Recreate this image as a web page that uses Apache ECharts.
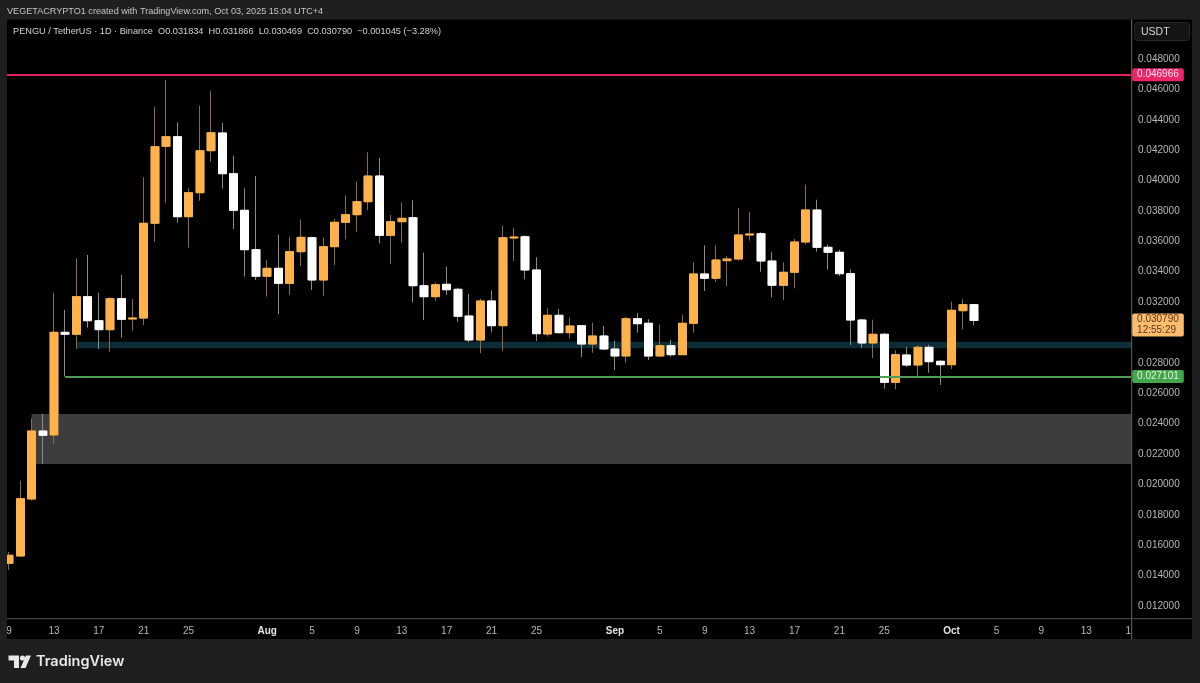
<!DOCTYPE html>
<html>
<head>
<meta charset="utf-8">
<style>html,body{margin:0;padding:0;background:#000}#c{width:1200px;height:683px}</style>
<script src="https://cdn.jsdelivr.net/npm/echarts@6/dist/echarts.min.js"></script>
</head>
<body>
<div id="c"></div>
<script>
const categories = ['07-08',
'07-09','07-10','07-11','07-12','07-13','07-14','07-15','07-16','07-17','07-18','07-19','07-20','07-21','07-22','07-23','07-24','07-25','07-26','07-27','07-28','07-29','07-30','07-31',
'08-01','08-02','08-03','08-04','08-05','08-06','08-07','08-08','08-09','08-10','08-11','08-12','08-13','08-14','08-15','08-16','08-17','08-18','08-19','08-20','08-21','08-22','08-23','08-24','08-25','08-26','08-27','08-28','08-29','08-30','08-31',
'09-01','09-02','09-03','09-04','09-05','09-06','09-07','09-08','09-09','09-10','09-11','09-12','09-13','09-14','09-15','09-16','09-17','09-18','09-19','09-20','09-21','09-22','09-23','09-24','09-25','09-26','09-27','09-28','09-29','09-30',
'10-01','10-02','10-03','10-04','10-05','10-06','10-07','10-08','10-09','10-10','10-11','10-12','10-13','10-14','10-15','10-16','10-17'];
const tickLabels = {'07-09':'9','07-13':'13','07-17':'17','07-21':'21','07-25':'25','08-01':'Aug','08-05':'5','08-09':'9','08-13':'13','08-17':'17','08-21':'21','08-25':'25','09-01':'Sep','09-05':'5','09-09':'9','09-13':'13','09-17':'17','09-21':'21','09-25':'25','10-01':'Oct','10-05':'5','10-09':'9','10-13':'13','10-17':'17'};
const opens = [.014811,.015292,.019043,.023518,.023255,.030013,.029882,.032356,.030777,.030185,.032225,.030888,.030954,.037187,.042254,.042886,.037621,.039200,.041964,.043129,.040451,.038042,.035449,.033699,.034225,.033238,.035318,.036239,.033455,.035647,.037252,.037753,.038608,.040299,.036397,.037292,.037555,.033080,.032356,.033172,.032843,.031086,.029507,.032073,.030448,.036219,.036305,.034113,.029901,.031132,.029987,.030448,.029243,.029770,.028914,.028454,.030908,.030606,.028454,.029132,.028539,.030606,.033850,.033567,.034725,.034837,.036417,.036502,.034706,.033106,.033962,.035956,.038062,.035607,.035278,.033870,.030823,.029309,.029882,.026723,.028519,.027861,.029026,.028105,.027881,.031435,.031834];
const highs = [.015555,.020247,.024354,.024637,.032619,.031481,.034883,.035100,.032619,.032317,.033784,.032205,.040214,.044860,.046617,.043833,.039490,.044926,.045913,.043787,.041635,.039490,.040299,.034771,.036436,.036305,.037450,.036305,.036239,.037470,.039029,.039924,.041859,.041484,.037733,.038569,.038700,.035252,.033304,.034330,.032949,.032534,.032225,.032777,.037009,.036897,.036397,.034949,.031593,.031547,.031000,.030494,.030645,.030428,.029461,.031040,.031264,.030869,.030513,.029507,.031172,.034640,.035739,.035739,.035035,.038194,.037911,.036594,.035298,.034620,.036153,.039727,.038740,.035805,.035449,.034159,.030889,.030843,.029987,.028829,.029046,.029158,.029197,.028190,.032027,.032185,.031866];
const lows = [.014370,.015250,.018931,.021346,.022662,.027101,.028914,.030316,.028914,.028737,.029658,.030119,.030494,.035956,.038542,.037226,.035581,.038674,.041240,.039464,.036812,.033672,.033455,.032356,.031198,.032468,.034377,.032797,.032402,.034442,.036134,.036634,.038062,.035870,.034508,.035910,.031961,.030823,.032093,.032468,.030711,.029355,.028631,.030013,.028802,.034706,.033501,.029441,.029724,.029948,.029592,.028388,.028671,.028894,.027532,.028013,.029987,.028190,.028440,.028408,.028520,.029987,.032731,.033324,.033060,.034725,.036042,.034001,.032317,.032139,.032909,.035805,.035318,.034133,.033718,.029178,.029000,.028322,.026302,.026262,.027750,.026986,.027355,.026545,.027598,.030211,.030469];
const closes = [.015338,.019063,.023518,.023235,.030013,.029882,.032356,.030777,.030185,.032225,.030869,.030954,.037187,.042228,.042886,.037621,.039200,.041964,.043149,.040451,.038042,.035449,.033699,.034225,.033238,.035318,.036265,.033455,.035647,.037252,.037753,.038608,.040299,.036397,.037292,.037516,.033080,.032356,.033146,.032817,.031066,.029507,.032073,.030448,.036239,.036285,.034113,.029921,.031132,.029987,.030428,.029243,.029770,.028914,.028454,.030908,.030579,.028454,.029132,.028539,.030606,.033850,.033567,.034771,.034837,.036417,.036482,.034706,.033106,.033962,.035956,.038062,.035607,.035278,.033870,.030823,.029309,.029882,.026723,.028539,.027861,.029026,.028079,.027881,.031461,.031834,.030790];
const resistanceLevel = 0.046966;
const supportLevel = 0.027101;
const lastPrice = 0.030790;
const countdown = '12:55:29';
const grayZone = {from:'07-11', to:'10-17', top:0.024636, bottom:0.021345};
const tealZone = {from:'07-15', to:'10-17', top:0.029394, bottom:0.028960};
const ORANGE = '#ffb24a', WHITE = '#ffffff';
const FONT = '"Liberation Sans", sans-serif';
const FRAME = '#1f1f1f';

const wicks = [['-','-','-','-']].concat(opens.map((o,i)=>[o,closes[i],lows[i],highs[i]]));
const bodies = [['-','-','-','-']].concat(opens.map((o,i)=>[o,closes[i],Math.min(o,closes[i]),Math.max(o,closes[i])]));

const levelLabel = (bg,color,val)=>({show:true,position:'end',distance:1,backgroundColor:bg,color,
  fontFamily:FONT,fontSize:10,padding:[1.5,5],borderRadius:2,lineHeight:10,
  formatter:()=>val.toFixed(6)});

const chart = echarts.init(document.getElementById('c'),null,{renderer:'canvas'});
chart.setOption({
  animation:false,
  backgroundColor:'#000',
  grid:{left:-7.73,width:1144.44,top:28.6,height:577.4,containLabel:false,outerBoundsMode:'none'},
  xAxis:{type:'category',data:categories,boundaryGap:true,
    axisLine:{show:false},axisTick:{show:false},splitLine:{show:false},
    axisLabel:{interval:(i,v)=>v in tickLabels,hideOverlap:false,showMinLabel:true,showMaxLabel:true,margin:20,fontFamily:FONT,fontSize:10,color:'#b8b8b8',
      formatter:v=>{const t=tickLabels[v]||'';return /[A-Z]/.test(t)?'{m|'+t+'}':t;},
      rich:{m:{color:'#e4e4e4',fontWeight:'bold',fontSize:10,fontFamily:FONT}}}},
  yAxis:{type:'value',position:'right',min:0.012,max:0.05,interval:0.002,scale:false,
    axisLine:{show:false},axisTick:{show:false},splitLine:{show:false},
    axisLabel:{margin:1.3,padding:[4,0,0,0],showMaxLabel:false,fontFamily:FONT,fontSize:10,color:'#b8b8b8',formatter:v=>v.toFixed(6)}},
  series:[
    {type:'line',name:'zones',data:[],z:1,silent:true,symbol:'none',
      markArea:{silent:true,data:[
        [{coord:[grayZone.from,grayZone.top],itemStyle:{color:'#3d3d3d'}},{coord:[grayZone.to,grayZone.bottom]}],
        [{coord:[tealZone.from,tealZone.top],itemStyle:{color:'#0c2c36'}},{coord:[tealZone.to,tealZone.bottom]}]
      ]}},
    {type:'candlestick',name:'wicks',data:wicks,barWidth:9,z:2,silent:true,
      itemStyle:{color:'#8a6a3e',color0:'#8c8c8c',borderColor:'#8a6a3e',borderColor0:'#8c8c8c',borderWidth:1}},
    {type:'candlestick',name:'bodies',data:bodies,barWidth:8,z:3,silent:true,
      itemStyle:{color:ORANGE,color0:WHITE,borderColor:ORANGE,borderColor0:WHITE,borderWidth:1}},
    {type:'line',name:'levels',data:[],z:6,silent:true,symbol:'none',
      markLine:{silent:true,symbol:['none','none'],precision:6,data:[
        [{coord:['07-08',resistanceLevel],lineStyle:{color:'#e0205f',width:2,type:'solid'},label:levelLabel('#e9266a','#f3e2e8',resistanceLevel)},{coord:['10-17',resistanceLevel]}],
        [{coord:['07-14',supportLevel],lineStyle:{color:'#4f9d52',width:2,type:'solid'},label:levelLabel('#43a64a','#e4f3e4',supportLevel)},{coord:['10-17',supportLevel]}],
        [{coord:['10-16',lastPrice],lineStyle:{color:'rgba(0,0,0,0)',width:1,type:'solid'},
          label:{show:true,position:'end',distance:1,offset:[0,4.5],backgroundColor:'#fdbb6e',color:'#55391a',
            fontFamily:FONT,fontSize:10,lineHeight:11,padding:[0.5,5],borderRadius:2,
            formatter:()=>lastPrice.toFixed(6)+'\n'+countdown}},{coord:['10-17',lastPrice]}]
      ]}}
  ],
  graphic:{elements:[
    {type:'rect',shape:{x:0,y:0,width:1200,height:19.5},style:{fill:FRAME},z:100},
    {type:'rect',shape:{x:0,y:0,width:7,height:683},style:{fill:FRAME},z:100},
    {type:'rect',shape:{x:1192,y:0,width:8,height:683},style:{fill:FRAME},z:100},
    {type:'rect',shape:{x:0,y:639,width:1200,height:44},style:{fill:FRAME},z:100},
    {type:'rect',shape:{x:1132,y:619,width:60,height:20},style:{fill:'#000'},z:100},
    {type:'rect',shape:{x:7,y:618,width:1185,height:1.2},style:{fill:'#444'},z:100},
    {type:'rect',shape:{x:1131,y:19.5,width:1.2,height:620},style:{fill:'#555'},z:100},
    {type:'rect',shape:{x:1134.5,y:22.5,width:55,height:18,r:3},style:{fill:'#141414',stroke:'#262626',lineWidth:1},z:100},
    {type:'text',style:{x:1141,y:32,text:'USDT',fill:'#d8d8d8',font:'10.5px "Liberation Sans",sans-serif',textVerticalAlign:'middle'},z:101},
    {type:'text',style:{x:7,y:11,text:'VEGETACRYPTO1 created with TradingView.com, Oct 03, 2025 15:04 UTC+4',fill:'#c4c4c4',font:'9.1px '+FONT,textVerticalAlign:'middle'},z:101},
    {type:'text',style:{x:13,y:31,text:'PENGU / TetherUS · 1D · Binance  O0.031834  H0.031866  L0.030469  C0.030790  −0.001045 (−3.28%)',fill:'#d4d4d4',font:'9.2px '+FONT,textVerticalAlign:'middle'},z:101},
    {type:'polygon',shape:{points:[[8.5,655.5],[19,655.5],[19,668],[14,668],[14,660.5],[8.5,660.5]]},style:{fill:'#e8e8e8'},z:101},
    {type:'circle',shape:{cx:22.5,cy:658,r:2.6},style:{fill:'#e8e8e8'},z:101},
    {type:'polygon',shape:{points:[[26,655.5],[31,655.5],[25.5,668],[20.5,668]]},style:{fill:'#e8e8e8'},z:101},
    {type:'text',style:{x:36,y:661.5,text:'TradingView',fill:'#e8e8e8',font:'600 14.5px Inter, sans-serif',textVerticalAlign:'middle'},z:101}
  ]}
});
</script>
</body>
</html>
